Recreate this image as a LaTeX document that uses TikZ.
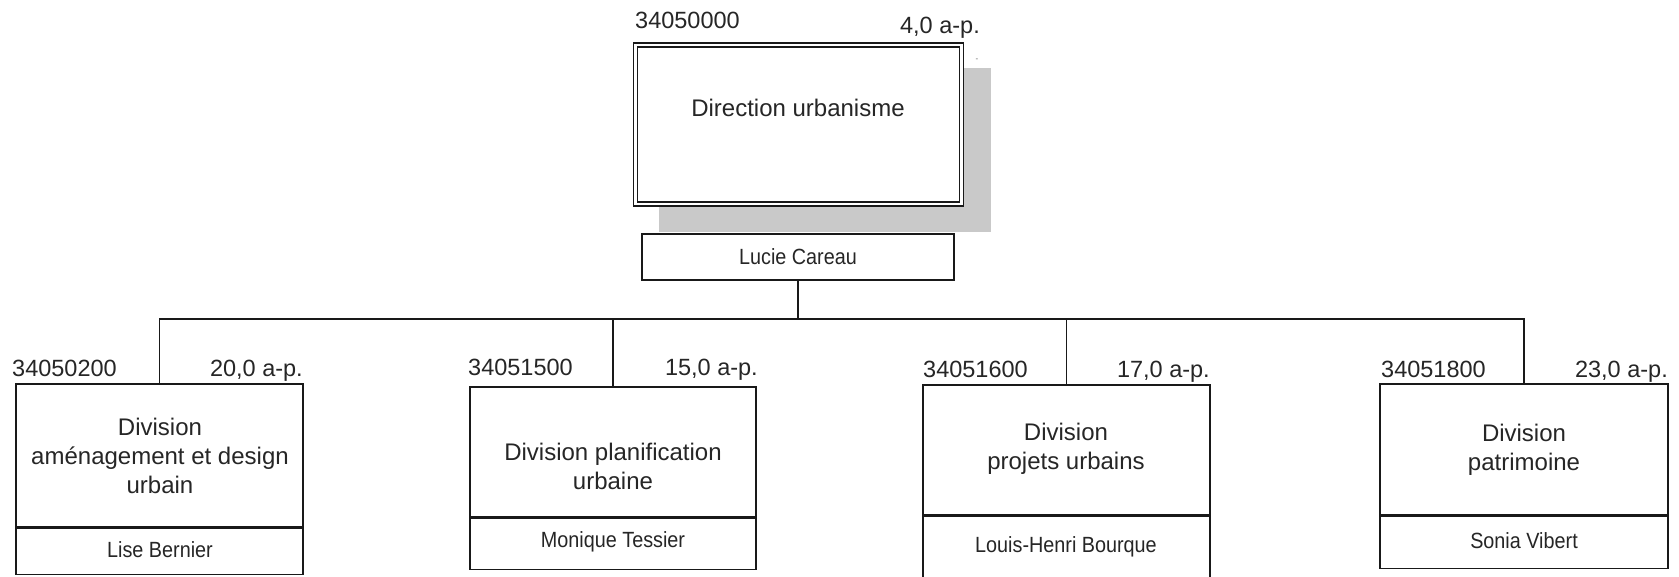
\documentclass[tikz,border=0pt]{standalone}
\usepackage{fontspec}
\setmainfont{Liberation Sans}
\newfontfamily\namefont[FakeStretch=0.9]{Liberation Sans}
\begin{document}
\begin{tikzpicture}[x=1pt,y=-1pt,
  orgbox/.style={draw=black!90, line width=1.3pt, fill=white, inner sep=0pt},
  shadowbox/.style={fill=black!21, draw=none, inner sep=0pt},
  maintext/.style={font=\fontsize{24}{29}\selectfont, align=center, text=black!85, inner sep=0pt},
  nametext/.style={font=\namefont\fontsize{22}{26}\selectfont, text=black!85, inner sep=0pt},
  codetext/.style={font=\fontsize{23.5}{28}\selectfont, text=black!85, inner sep=0pt},
  link/.style={draw=black!90, line width=1.3pt}]
\clip (0,0) rectangle (1679,576);
\fill[white] (0,0) rectangle (1679,576);

% top unit
\node[shadowbox, minimum width=332pt, minimum height=164pt] (shadow) at (825,150) {};
\node[orgbox, double, double distance=2.7pt, minimum width=326pt, minimum height=159pt] (top) at (798.5,124.5) {};
\node[maintext] (toptext) at (798,108) {Direction urbanisme};
\node[codetext, anchor=base west] (topcode) at (635,28) {34050000};
\node[codetext, anchor=base east] (topap) at (980,33) {4,0 a-p.};
\node[font=\fontsize{8}{8}\selectfont, text=black!60, inner sep=0pt] (topdot) at (977,60) {-};
\node[orgbox, minimum width=312pt, minimum height=46pt] (lucie) at (798,257) {};
\node[nametext] (luciet) at (798,257) {Lucie Careau};

% bus
\coordinate (busy) at (0,319);
\node[orgbox, minimum width=287pt, minimum height=143pt] (b1) at (159.5,455.5) {};
\node[orgbox, minimum width=286pt, minimum height=130pt] (b2) at (613,452) {};
\node[orgbox, minimum width=287pt, minimum height=130pt] (b3) at (1066.5,450) {};
\node[orgbox, minimum width=288pt, minimum height=131pt] (b4) at (1524,449.5) {};

\draw[link] (lucie.south) -- (lucie.south |- busy);
\draw[link] (b1.north) -- (b1.north |- busy) -- (b4.north |- busy) -- (b4.north);
\draw[link] (b2.north |- busy) -- (b2.north);
\draw[link] (b3.north |- busy) -- (b3.north);

% lower name boxes
\node[orgbox, minimum width=287pt, minimum height=46pt, anchor=north] (n1) at (b1.south) {};
\node[orgbox, minimum width=286pt, minimum height=51pt, anchor=north] (n2) at (b2.south) {};
\node[orgbox, minimum width=287pt, minimum height=67pt, anchor=north] (n3) at (b3.south) {};
\node[orgbox, minimum width=288pt, minimum height=52pt, anchor=north] (n4) at (b4.south) {};

% texts
\node[maintext] (t1) at (160,456) {Division\\aménagement et design\\urbain};
\node[maintext] (t2) at (613,466) {Division planification\\urbaine};
\node[maintext] (t3) at (1066,449) {Division\\projets urbains};
\node[maintext] (t4) at (1524,450) {Division\\patrimoine};

\node[nametext] (nt1) at (160,550) {Lise Bernier};
\node[nametext] (nt2) at (613,542) {Monique Tessier};
\node[nametext] (nt3) at (1066,547) {Louis-Henri Bourque};
\node[nametext] (nt4) at (1524,541) {Sonia Vibert};

\node[codetext, anchor=base west] (c1) at (12,376) {34050200};
\node[codetext, anchor=base east] (a1) at (303,376) {20,0 a-p.};
\node[codetext, anchor=base west] (c2) at (468,375) {34051500};
\node[codetext, anchor=base east] (a2) at (758,375) {15,0 a-p.};
\node[codetext, anchor=base west] (c3) at (923,377) {34051600};
\node[codetext, anchor=base east] (a3) at (1210,377) {17,0 a-p.};
\node[codetext, anchor=base west] (c4) at (1381,377) {34051800};
\node[codetext, anchor=base east] (a4) at (1668,377) {23,0 a-p.};
\end{tikzpicture}
\end{document}
